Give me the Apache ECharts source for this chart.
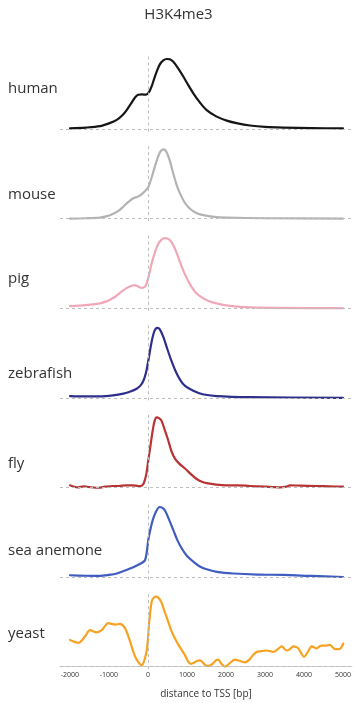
<!DOCTYPE html>
<html>
<head>
<meta charset="utf-8">
<script src="https://cdn.jsdelivr.net/npm/echarts@6/dist/echarts.min.js"></script>
<style>html,body{margin:0;padding:0;background:#fff;}#c{width:357px;height:703px;}</style>
</head>
<body>
<div id="c"></div>
<script>
const species = ['human', 'mouse', 'pig', 'zebrafish', 'fly', 'sea anemone', 'yeast'];
const colors = ['#161616', '#b3b3b3', '#f0a8b8', '#2e2f8c', '#b83434', '#3f5cc0', '#f8a221'];
const xTicks = [-2000, -1000, 0, 1000, 2000, 3000, 4000, 5000];

const human = [[-2000,0.01],[-1600,0.02],[-1230,0.04],[-1000,0.08],[-800,0.13],[-650,0.2],[-546,0.27],[-440,0.36],[-333,0.45],[-250,0.49],[-150,0.495],[-51,0.49],[30,0.53],[95,0.61],[160,0.72],[223,0.82],[300,0.92],[392,0.98],[480,1.0],[560,0.995],[650,0.96],[770,0.87],[905,0.75],[1030,0.63],[1162,0.51],[1330,0.38],[1505,0.27],[1750,0.18],[2018,0.12],[2300,0.08],[2615,0.05],[3000,0.03],[3470,0.02],[4200,0.012],[5000,0.01]];
const mouse = [[-2000,0.0],[-1600,0.005],[-1230,0.015],[-1050,0.035],[-890,0.07],[-760,0.11],[-633,0.17],[-500,0.24],[-377,0.29],[-280,0.31],[-205,0.33],[-100,0.38],[8,0.45],[90,0.58],[180,0.75],[250,0.87],[320,0.96],[392,0.99],[440,0.98],[500,0.92],[570,0.81],[650,0.64],[730,0.49],[820,0.36],[940,0.23],[1077,0.14],[1240,0.08],[1418,0.05],[1700,0.025],[2018,0.015],[3000,0.005],[5000,0.0]];
const pig = [[-2000,0.03],[-1600,0.045],[-1230,0.07],[-1100,0.09],[-975,0.12],[-850,0.16],[-718,0.22],[-570,0.28],[-418,0.32],[-350,0.33],[-290,0.32],[-220,0.3],[-162,0.29],[-100,0.3],[-51,0.33],[20,0.46],[95,0.64],[180,0.8],[265,0.92],[350,0.98],[436,1.0],[500,0.995],[564,0.97],[650,0.9],[735,0.79],[840,0.63],[950,0.48],[1090,0.33],[1248,0.21],[1450,0.13],[1675,0.08],[2000,0.04],[2360,0.02],[3200,0.005],[5000,0.0]];
const zebrafish = [[-2000,0.025],[-1600,0.02],[-1230,0.02],[-900,0.035],[-633,0.06],[-450,0.09],[-290,0.13],[-200,0.17],[-120,0.24],[-50,0.36],[30,0.6],[100,0.82],[170,0.96],[240,1.0],[300,0.98],[400,0.86],[500,0.69],[600,0.53],[700,0.39],[820,0.26],[950,0.17],[1162,0.10],[1400,0.05],[1760,0.025],[2615,0.01],[5000,0.0]];
const fly = [[-2000,0.03],[-1800,0.0],[-1650,0.015],[-1500,0.005],[-1260,-0.005],[-1100,0.01],[-900,0.02],[-750,0.02],[-560,0.03],[-400,0.03],[-250,0.02],[-162,0.025],[-100,0.07],[-40,0.2],[8,0.39],[70,0.62],[120,0.81],[170,0.95],[223,1.0],[280,0.99],[350,0.95],[430,0.82],[520,0.67],[600,0.52],[692,0.41],[800,0.34],[950,0.27],[1100,0.19],[1248,0.12],[1380,0.08],[1505,0.06],[1750,0.04],[2018,0.03],[2300,0.03],[2615,0.02],[3000,0.01],[3200,0.005],[3385,0.0],[3550,0.01],[3640,0.03],[3900,0.025],[4300,0.02],[4650,0.015],[5000,0.01]];
const seaAnemone = [[-2000,0.025],[-1600,0.018],[-1230,0.015],[-1000,0.03],[-800,0.05],[-620,0.085],[-460,0.12],[-300,0.16],[-162,0.2],[-77,0.24],[-30,0.36],[8,0.53],[70,0.7],[137,0.84],[220,0.95],[300,1.0],[360,0.99],[436,0.95],[540,0.82],[650,0.67],[750,0.53],[863,0.41],[1000,0.3],[1162,0.22],[1330,0.15],[1505,0.11],[1800,0.07],[2190,0.05],[2800,0.035],[3470,0.03],[4200,0.015],[5000,0.0]];
const yeast = [[-2000,0.38],[-1785,0.34],[-1615,0.43],[-1487,0.52],[-1315,0.49],[-1187,0.52],[-1017,0.62],[-930,0.61],[-846,0.60],[-718,0.61],[-590,0.55],[-460,0.36],[-370,0.2],[-290,0.10],[-162,0.02],[-77,0.12],[-20,0.28],[30,0.62],[95,0.93],[160,0.99],[223,1.0],[290,0.97],[350,0.91],[430,0.78],[520,0.64],[600,0.51],[692,0.40],[780,0.31],[863,0.24],[950,0.16],[1033,0.07],[1100,0.04],[1162,0.05],[1250,0.08],[1333,0.09],[1420,0.05],[1505,0.01],[1600,0.02],[1675,0.05],[1740,0.09],[1803,0.10],[1880,0.04],[1975,0.0],[2100,0.05],[2230,0.10],[2360,0.08],[2487,0.06],[2600,0.1],[2700,0.17],[2787,0.21],[2900,0.22],[3043,0.23],[3130,0.22],[3213,0.21],[3330,0.25],[3428,0.29],[3556,0.23],[3640,0.25],[3726,0.29],[3800,0.28],[3854,0.26],[3920,0.2],[4000,0.14],[4100,0.21],[4197,0.29],[4325,0.26],[4400,0.29],[4453,0.30],[4560,0.30],[4667,0.31],[4730,0.28],[4795,0.25],[4905,0.25],[5008,0.33]];

const seriesData = [human, mouse, pig, zebrafish, fly, seaAnemone, yeast];
const labelOffsets = [42, 25, 31, 26, 25, 28, 34];

const chart = echarts.init(document.getElementById('c'), null, {renderer: 'canvas'});
const SCALE = 70, YMAX = 1.04, YMIN = -0.0357;
const grids = [], xAxes = [], yAxes = [], series = [], titles = [];
const dash = {color: '#bdbdbd', width: 1, type: [3, 3]};
species.forEach((name, i) => {
  const base = 129 + i * 89.6;
  const top = base - YMAX * SCALE;
  const h = (YMAX - YMIN) * SCALE;
  grids.push({left: 60, right: 5, top: top, height: h});
  const last = i === species.length - 1;
  xAxes.push({
    type: 'value', gridIndex: i, min: -2256, max: 5231,
    axisLine: {show: last, lineStyle: {color: '#cfcfcf', width: 1}},
    axisTick: {show: false}, splitLine: {show: false},
    axisLabel: {show: last, customValues: xTicks, fontSize: 7, color: '#333', margin: 2,
      fontFamily: 'Open Sans', formatter: v => String(v)},
    name: last ? 'distance to TSS [bp]' : '', nameLocation: 'middle', nameGap: 20,
    nameTextStyle: {fontSize: 10, color: '#333', fontFamily: 'Open Sans'}
  });
  yAxes.push({type: 'value', gridIndex: i, min: YMIN, max: YMAX, show: false});
  series.push({
    type: 'line', xAxisIndex: i, yAxisIndex: i, data: seriesData[i],
    smooth: 0.3, showSymbol: false, symbol: 'none',
    lineStyle: {color: colors[i], width: 2.2, join: 'round', cap: 'round'},
    markLine: {silent: true, symbol: 'none', label: {show: false}, lineStyle: dash,
      data: [{yAxis: 0}, {xAxis: 0}]},
    z: 3
  });
  titles.push({text: name, left: 3, top: base - labelOffsets[i] - 11,
    textStyle: {fontSize: 15, fontWeight: 'normal', color: '#333', fontFamily: 'Open Sans'}});
});
titles.push({text: 'H3K4me3', left: 'center', top: 2, textStyle: {fontSize: 15, fontWeight: 'normal', color: '#333', fontFamily: 'Open Sans'}});

chart.setOption({
  animation: false,
  title: titles,
  grid: grids, xAxis: xAxes, yAxis: yAxes, series: series
});
</script>
</body>
</html>
